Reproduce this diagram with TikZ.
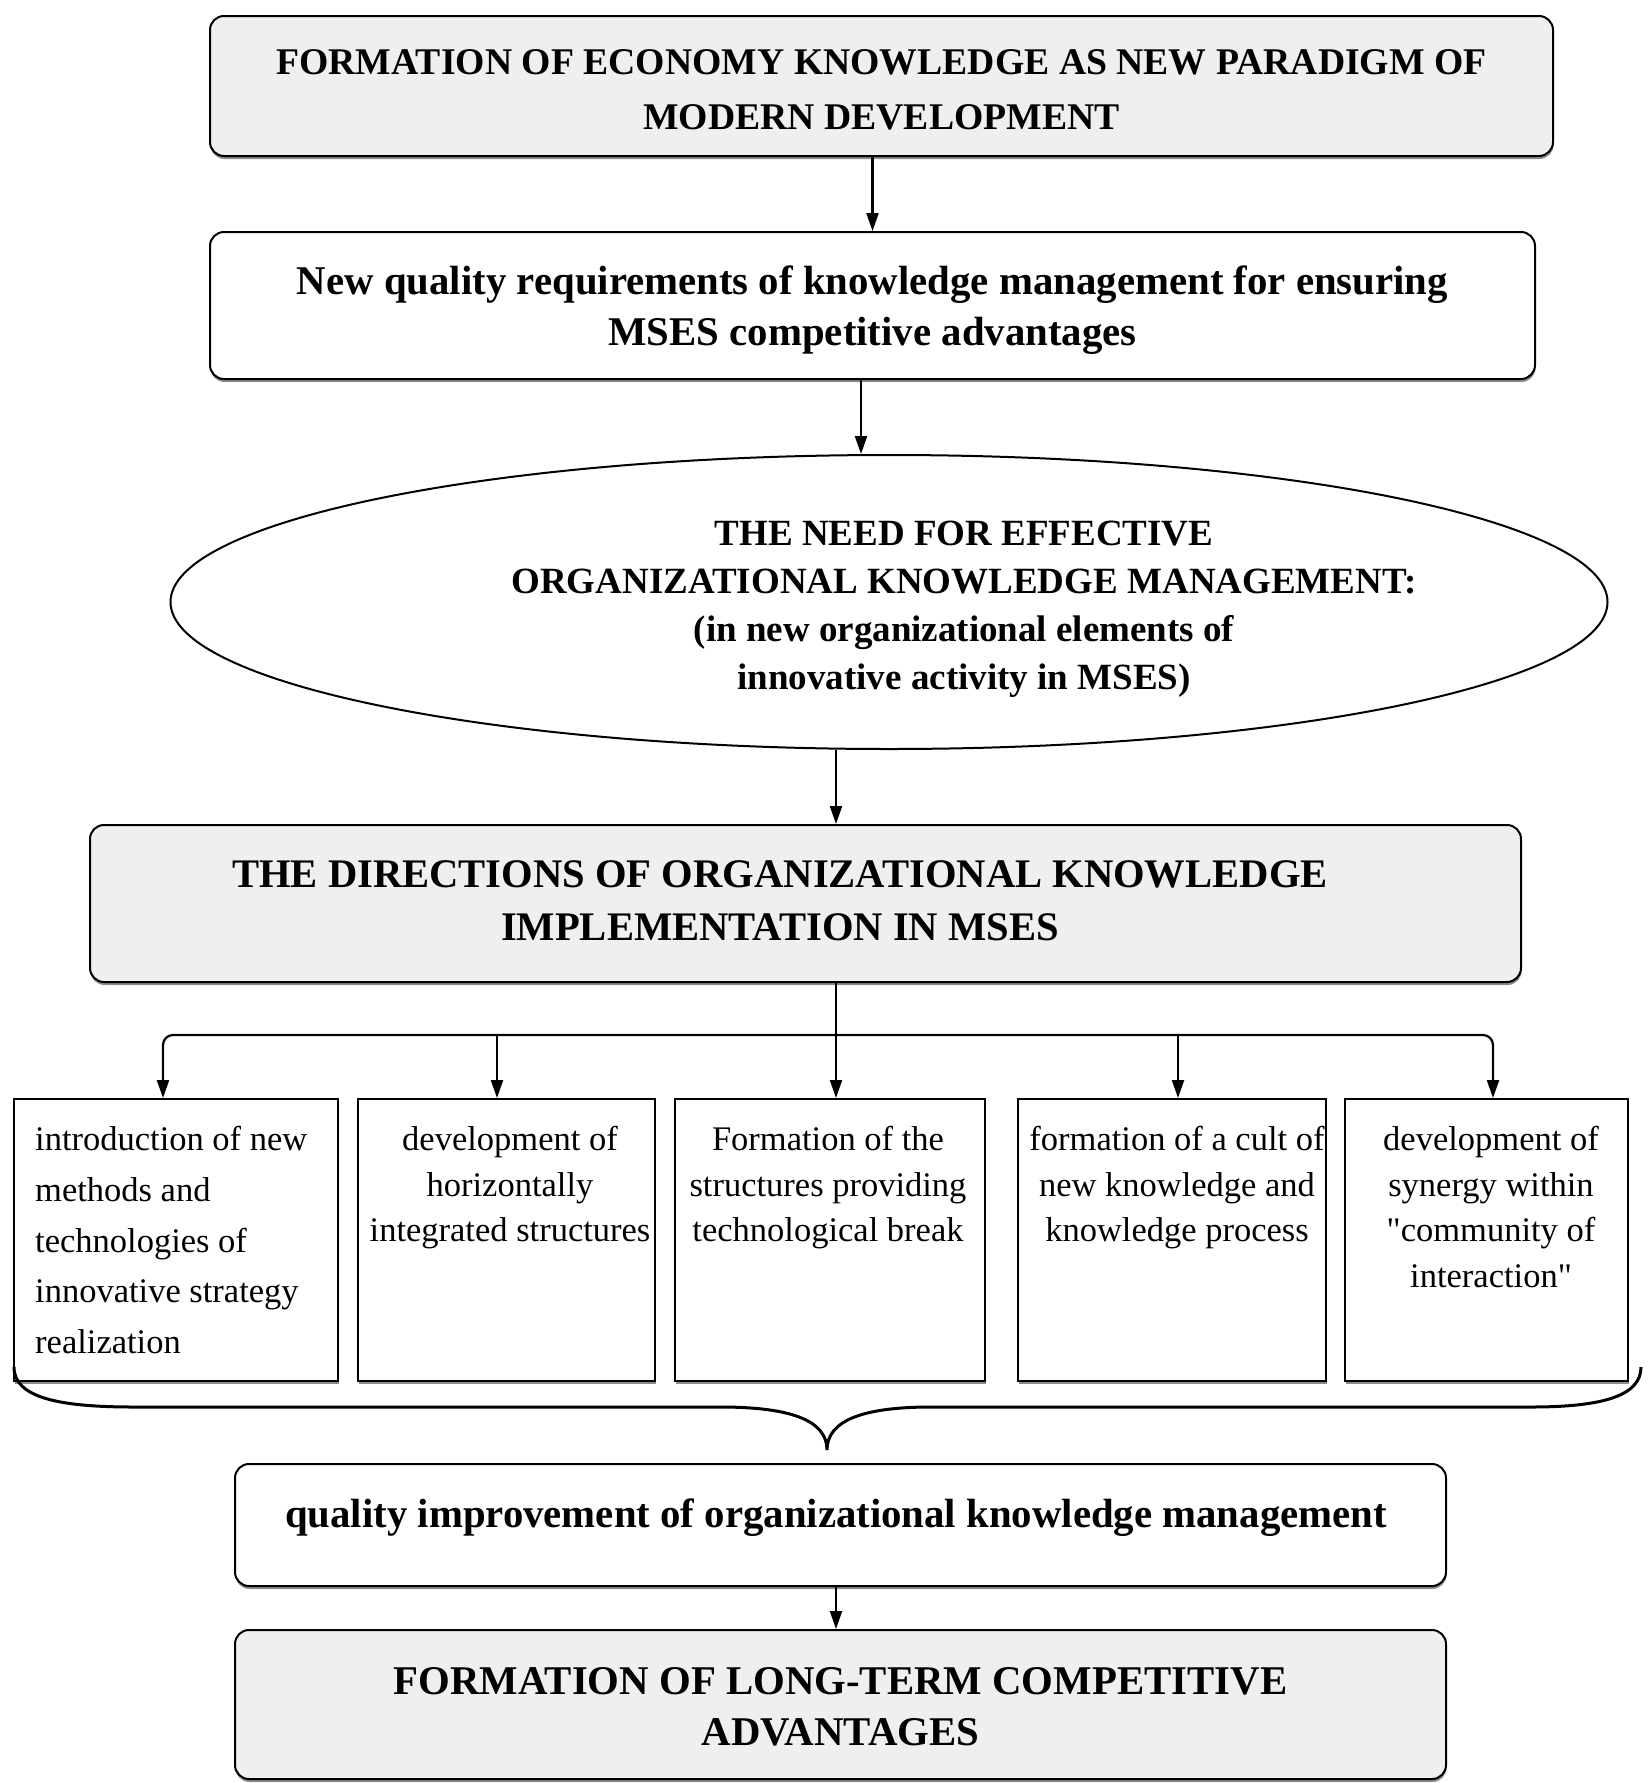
\documentclass[tikz,border=0pt]{standalone}
\usepackage{fontspec}
\setmainfont{Liberation Serif}
\newfontfamily\nolig{Liberation Serif}[Ligatures=TeXOff]
\usetikzlibrary{arrows.meta,shapes.geometric,shadows}
\definecolor{boxgray}{HTML}{EFEFEF}
\begin{document}
\begin{tikzpicture}[x=1pt,y=-1pt,
  arr/.style={line width=2.2pt,-{Triangle[length=18pt,width=12pt]}},
  shad/.style={drop shadow={shadow xshift=0.5pt,shadow yshift=-3pt,fill=black,opacity=0.45}},
  rbox/.style={draw,line width=2pt,rounded corners=14pt,inner sep=0pt,align=center,shad},
  gbox/.style={rbox,fill=boxgray},
  wbox/.style={rbox,fill=white},
  sbox/.style={draw,line width=2pt,fill=white,inner sep=0pt,minimum height=282pt,shad},
  small/.style={font=\fontsize{34.5}{45.5}\selectfont,align=center,inner sep=0pt},
]
\useasboundingbox (0,0) rectangle (1651,1783);

\node[gbox,minimum width=1343pt,minimum height=140pt] (b1) at (881.5,86) {};
\node[font=\fontsize{37.7}{55}\selectfont\bfseries,align=center] (b1t) at (881.5,89.5) {FORMATION OF ECONOMY KNOWLEDGE AS NEW PARADIGM OF\\MODERN DEVELOPMENT};
\node[wbox,minimum width=1325pt,minimum height=147pt] (b2) at (872.5,305.5) {};
\node[font=\fontsize{40.8}{51}\selectfont\bfseries,align=center] (b2t) at (872.5,310) {New quality requirements of knowledge management for ensuring\\MSES competitive advantages};
\node[ellipse,draw,line width=2pt,fill=white,minimum width=1437pt,minimum height=294pt,inner sep=0pt] (e) at (889,602) {};
\node[font=\fontsize{37}{48}\selectfont\bfseries,align=center] (et) at (964,609) {THE NEED FOR EFFECTIVE\\ORGANIZATIONAL KNOWLEDGE MANAGEMENT:\hspace*{40pt}\\(in new organizational elements of\\innovative activity in MSES)};

\node[gbox,minimum width=1431pt,minimum height=157pt] (b4) at (805.5,903.5) {};
\node[font=\fontsize{40.6}{53}\selectfont\bfseries,align=center] (b4t) at (780,901) {THE DIRECTIONS OF ORGANIZATIONAL KNOWLEDGE\\IMPLEMENTATION IN MSES};

\node[sbox,minimum width=324pt] (s1) at (176,1240) {};
\node[sbox,minimum width=297pt] (s2) at (506.5,1240) {};
\node[sbox,minimum width=310pt] (s3) at (830,1240) {};
\node[sbox,minimum width=308pt] (s4) at (1172,1240) {};
\node[sbox,minimum width=283pt] (s5) at (1486.5,1240) {};

\node[small,align=left,font=\fontsize{34.5}{50.8}\selectfont,anchor=north west] (st1) at (35,1126) {introduction of new\\methods and\\technologies of\\innovative strategy\\realization};
\node[small,anchor=north] (st2) at (510,1126) {development of\\horizontally\\integrated structures};
\node[small,anchor=north] (st3) at (828,1126) {Formation of the\\structures providing\\technological break};
\node[small,anchor=north] (st4) at (1177,1126) {formation of a cult of\\new knowledge and\\knowledge process};
\node[small,anchor=north] (st5) at (1491,1126) {development of\\synergy within\\{\nolig"}community of\\interaction{\nolig"}};

\node[wbox,minimum width=1211pt,minimum height=122pt] (q) at (840.5,1525) {};
\node[font=\fontsize{40.8}{50}\selectfont\bfseries] (qt) at (836,1518) {quality improvement of organizational knowledge management};

\node[gbox,minimum width=1211pt,minimum height=149pt] (b6) at (840.5,1704.5) {};
\node[font=\fontsize{40.8}{51}\selectfont\bfseries,align=center] (b6t) at (840.5,1707) {FORMATION OF LONG-TERM COMPETITIVE\\ADVANTAGES};

% connectors
\coordinate (xa) at (861,0);
\coordinate (xm) at (836,0);
\coordinate (bar) at (836,1035);
\coordinate (a1) at (163,0);
\coordinate (a2) at (497,0);
\coordinate (a4) at (1178,0);
\coordinate (a5) at (1493,0);
\draw[arr] (b2.north |- b1.south) -- (b2.north);
\draw[arr] (b2.south -| xa) -- (e.north -| xa);
\draw[arr] (e.south -| xm) -- (b4.north -| xm);
\draw[arr] (b4.south -| xm) -- (s3.north -| xm);
\draw[arr,rounded corners=10pt] (bar) -| (s1.north -| a1);
\draw[arr,rounded corners=10pt] (bar) -| (s5.north -| a5);
\draw[arr] (bar -| a2) -- (s2.north -| a2);
\draw[arr] (bar -| a4) -- (s4.north -| a4);
\draw[arr] (q.south -| xm) -- (b6.north -| xm);

% brace
\draw[line width=3pt] (14,1367) .. controls (14,1398) and (60,1407) .. (134,1407)
  -- (720,1407) .. controls (790,1407) and (827,1420) .. (827,1450)
  .. controls (827,1420) and (864,1407) .. (931,1407)
  -- (1531,1407) .. controls (1605,1407) and (1641,1395) .. (1641,1367);
\end{tikzpicture}
\end{document}
